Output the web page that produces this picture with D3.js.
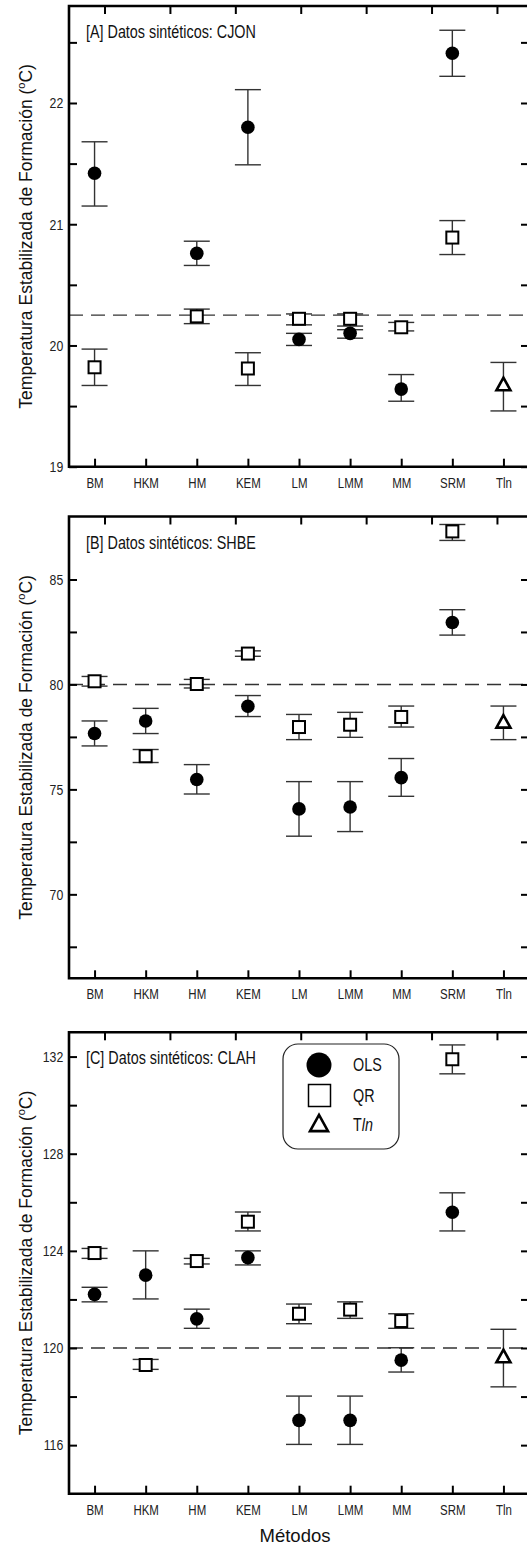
<!DOCTYPE html>
<html>
<head>
<meta charset="utf-8">
<script src="https://cdn.jsdelivr.net/npm/d3@7/dist/d3.min.js"></script>
<style>
  body { margin: 0; background: #fff; }
  svg { display: block; }
</style>
</head>
<body>
<script>
var categories = ['BM', 'HKM', 'HM', 'KEM', 'LM', 'LMM', 'MM', 'SRM', 'Tln'];

// cada punto: [valor, limite inferior, limite superior]
var aOls = [[21.42, 21.15, 21.68], null, [20.76, 20.66, 20.86], [21.80, 21.49, 22.11], [20.05, 20.00, 20.10], [20.10, 20.06, 20.13], [19.64, 19.54, 19.76], [22.41, 22.22, 22.60], null];
var aQr = [[19.82, 19.67, 19.97], null, [20.24, 20.18, 20.30], [19.81, 19.67, 19.94], [20.22, 20.17, 20.26], [20.22, 20.16, 20.26], [20.15, 20.12, 20.19], [20.89, 20.75, 21.03], null];
var aTln = [19.67, 19.46, 19.86];
var aRef = 20.25;

var bOls = [[77.66, 77.07, 78.26], [78.26, 77.66, 78.86], [75.47, 74.78, 76.18], [78.96, 78.47, 79.47], [74.07, 72.77, 75.37], [74.16, 72.99, 75.37], [75.56, 74.67, 76.47], [82.95, 82.35, 83.56], null];
var bQr = [[80.15, 79.92, 80.38], [76.58, 76.28, 76.90], [80.02, 79.83, 80.24], [81.47, 81.34, 81.60], [77.97, 77.37, 78.57], [78.08, 77.48, 78.67], [78.45, 77.97, 78.97], [87.29, 86.86, 87.62], null];
var bTln = [78.17, 77.37, 78.97];
var bRef = 80;

var cOls = [[122.21, 121.90, 122.50], [123.0, 122.02, 124.0], [121.20, 120.81, 121.60], [123.72, 123.42, 124.0], [117.02, 116.03, 118.02], [117.02, 116.03, 118.02], [119.50, 119.01, 120.01], [125.59, 124.82, 126.39], null];
var cQr = [[123.91, 123.69, 124.10], [119.30, 119.12, 119.53], [123.58, 123.46, 123.69], [125.20, 124.82, 125.60], [121.41, 121.0, 121.81], [121.58, 121.22, 121.90], [121.11, 120.81, 121.41], [131.89, 131.29, 132.48], null];
var cTln = [119.61, 118.40, 120.77];
var cRef = 120;

var aTicks = [19, 20, 21, 22], aMinor = [19.5, 20.5, 21.5, 22.5];
var bTicks = [70, 75, 80, 85], bMinor = [67.5, 72.5, 77.5, 82.5];
var cTicks = [116, 120, 124, 128, 132], cMinor = [118, 122, 126, 130];

var legendLabels = ['OLS', 'QR', 'Tln'];

var W = 527, H = 1546;
var left = 69, right = 529;
var font = '"Liberation Sans", Arial, sans-serif';
var squeeze = 'scale(0.82,1)'; // imita la letra estrecha (Arial Narrow)

var svg = d3.select('body').append('svg')
  .attr('width', W).attr('height', H);

var x = d3.scalePoint().domain(categories).range([left, right]).padding(0.5);
// marcas superiores sin etiqueta (escala propia, como en el original)
var xTop = d3.scaleLinear().domain([0.457, 7.49]).range([left, right]);

var panels = [
  { title: '[A] Datos sintéticos: CJON', top: 6, bottom: 466.7, domain: [19, 22.8], ticks: aTicks, minor: aMinor, ols: aOls, qr: aQr, tln: aTln, ref: aRef },
  { title: '[B] Datos sintéticos: SHBE', top: 516.5, bottom: 978.3, domain: [66, 88], ticks: bTicks, minor: bMinor, ols: bOls, qr: bQr, tln: bTln, ref: bRef },
  { title: '[C] Datos sintéticos: CLAH', top: 1032.3, bottom: 1493.7, domain: [114, 133], ticks: cTicks, minor: cMinor, ols: cOls, qr: cQr, tln: cTln, ref: cRef, legend: true }
];

function triangle(size) {
  var h = size * 0.9;
  return 'M0,' + (-h * 0.62) + 'L' + (size / 2) + ',' + (h * 0.38) + 'L' + (-size / 2) + ',' + (h * 0.38) + 'Z';
}

function errorBar(g, cx, y, d) {
  var eb = g.append('g').attr('stroke', '#333').attr('stroke-width', 1.4);
  eb.append('line').attr('x1', cx).attr('x2', cx).attr('y1', y(d[1])).attr('y2', y(d[2]));
  eb.append('line').attr('x1', cx - 13).attr('x2', cx + 13).attr('y1', y(d[1])).attr('y2', y(d[1]));
  eb.append('line').attr('x1', cx - 13).attr('x2', cx + 13).attr('y1', y(d[2])).attr('y2', y(d[2]));
}

panels.forEach(function(p) {
  var y = d3.scaleLinear().domain(p.domain).range([p.bottom, p.top]);
  var g = svg.append('g');

  // linea de referencia
  g.append('line')
    .attr('x1', left).attr('x2', right)
    .attr('y1', y(p.ref)).attr('y2', y(p.ref))
    .attr('stroke', '#333').attr('stroke-width', 1.4)
    .attr('stroke-dasharray', '14,8');

  // ejes
  var yl = g.append('g').attr('transform', 'translate(' + left + ',0)')
    .call(d3.axisLeft(y).tickValues(p.ticks).tickSizeInner(-8).tickSizeOuter(0).tickPadding(7).tickFormat(d3.format('d')));
  g.append('g').attr('transform', 'translate(' + left + ',0)')
    .call(d3.axisLeft(y).tickValues(p.minor).tickSizeInner(-8).tickSizeOuter(0).tickFormat(''));
  g.append('g').attr('transform', 'translate(' + right + ',0)')
    .call(d3.axisRight(y).tickValues(p.ticks.concat(p.minor)).tickSizeInner(-8).tickSizeOuter(0).tickFormat(''));
  var xb = g.append('g').attr('transform', 'translate(0,' + p.bottom + ')')
    .call(d3.axisBottom(x).tickSizeInner(-8).tickSizeOuter(0).tickPadding(11));
  g.append('g').attr('transform', 'translate(0,' + p.top + ')')
    .call(d3.axisTop(xTop).tickValues([1, 2, 3, 4, 5, 6, 7]).tickSizeInner(-8).tickSizeOuter(0).tickFormat(''));

  g.selectAll('.domain').remove();
  g.selectAll('.tick line').attr('stroke', '#000').attr('stroke-width', 2);
  yl.selectAll('text').attr('font-family', font).attr('font-size', 15).attr('fill', '#222').attr('transform', squeeze);
  xb.selectAll('text').attr('font-family', font).attr('font-size', 14).attr('fill', '#222').attr('transform', squeeze);

  // marco
  g.append('path')
    .attr('d', 'M' + right + ',' + p.top + 'H' + left + 'V' + p.bottom + 'H' + right)
    .attr('fill', 'none').attr('stroke', '#000').attr('stroke-width', 2.6);

  // titulo del panel
  g.append('text')
    .attr('transform', 'translate(86,' + (p.top + 32) + ') ' + squeeze)
    .attr('font-family', font).attr('font-size', 17.5).attr('fill', '#111')
    .text(p.title);

  // titulo eje y
  var yt = g.append('text')
    .attr('transform', 'translate(32,' + ((p.top + p.bottom) / 2) + ') rotate(-90)')
    .attr('text-anchor', 'middle')
    .attr('font-family', font).attr('font-size', 17.5).attr('fill', '#111');
  yt.append('tspan').text('Temperatura Estabilizada de Formación (');
  yt.append('tspan').attr('font-size', 11).attr('dy', -7).text('o');
  yt.append('tspan').attr('dy', 7).text('C)');

  // barras de error
  categories.forEach(function(c, i) {
    if (p.qr[i]) errorBar(g, x(c), y, p.qr[i]);
    if (p.ols[i]) errorBar(g, x(c), y, p.ols[i]);
  });
  errorBar(g, x('Tln'), y, p.tln);

  // marcadores
  categories.forEach(function(c, i) {
    if (p.qr[i]) {
      g.append('rect')
        .attr('x', x(c) - 6).attr('y', y(p.qr[i][0]) - 6)
        .attr('width', 12).attr('height', 12)
        .attr('fill', '#fff').attr('stroke', '#000').attr('stroke-width', 2);
    }
    if (p.ols[i]) {
      g.append('circle')
        .attr('cx', x(c)).attr('cy', y(p.ols[i][0])).attr('r', 6.8)
        .attr('fill', '#000');
    }
  });
  g.append('path')
    .attr('transform', 'translate(' + x('Tln') + ',' + y(p.tln[0]) + ')')
    .attr('d', triangle(14))
    .attr('fill', '#fff').attr('stroke', '#000').attr('stroke-width', 2.6)
    .attr('stroke-linejoin', 'miter');

  if (p.legend) {
    var lg = g.append('g').attr('transform', 'translate(283,1044)');
    lg.append('rect').attr('width', 116).attr('height', 105).attr('rx', 15)
      .attr('fill', '#fff').attr('stroke', '#222').attr('stroke-width', 1.2);
    lg.append('circle').attr('cx', 36).attr('cy', 21).attr('r', 12.5).attr('fill', '#000');
    lg.append('rect').attr('x', 25.5).attr('y', 40.5).attr('width', 22).attr('height', 22)
      .attr('fill', '#fff').attr('stroke', '#000').attr('stroke-width', 1.5);
    lg.append('path').attr('transform', 'translate(36,81)').attr('d', triangle(18))
      .attr('fill', '#fff').attr('stroke', '#000').attr('stroke-width', 2.6);
    var ly = [21, 52, 81];
    legendLabels.forEach(function(t, i) {
      var tx = lg.append('text')
        .attr('transform', 'translate(70,' + ly[i] + ') ' + squeeze)
        .attr('dy', '0.36em')
        .attr('font-family', font).attr('font-size', 17.5).attr('fill', '#111');
      if (t === 'Tln') {
        tx.append('tspan').text('T');
        tx.append('tspan').attr('font-style', 'italic').text('ln');
      } else {
        tx.text(t);
      }
    });
  }
});

svg.append('text')
  .attr('x', 295).attr('y', 1542)
  .attr('text-anchor', 'middle')
  .attr('font-family', font).attr('font-size', 18.5).attr('fill', '#111')
  .text('Métodos');
</script>
</body>
</html>
